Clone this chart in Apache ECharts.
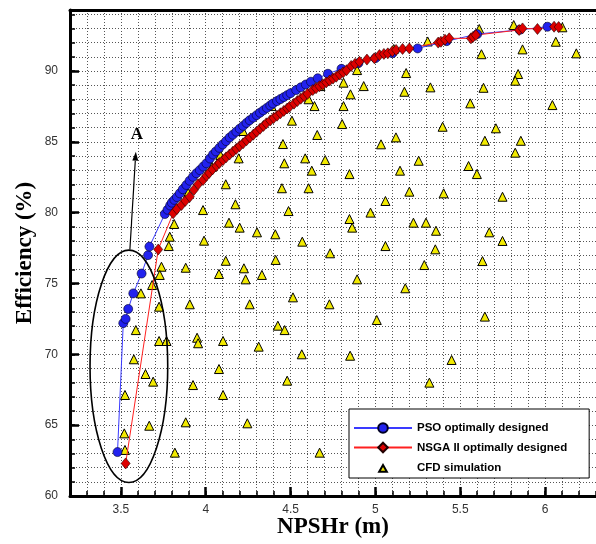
<!DOCTYPE html>
<html>
<head>
<meta charset="utf-8">
<script src="https://cdn.jsdelivr.net/npm/echarts@6/dist/echarts.min.js"></script>
<style>
  html, body { margin: 0; padding: 0; background: #fff; }
  #main { width: 596px; height: 544px; }
</style>
</head>
<body>
<div id="main"></div>
<script>
// NPSHr (m) / efficiency (%) pairs
const psoPoints = [
    [3.48, 63.1], [3.514, 72.2], [3.528, 72.5], [3.543, 73.2], [3.573, 74.3], [3.622, 75.7],
    [3.66, 77.0], [3.668, 77.6], [3.759, 79.9], [3.775, 80.2], [3.79, 80.5], [3.80, 80.7],
    [3.815, 80.9], [3.83, 81.1], [3.847, 81.36], [3.865, 81.65], [3.886, 81.95], [3.905, 82.25],
    [3.925, 82.53], [3.945, 82.78], [3.965, 83.0], [3.985, 83.25], [4.004, 83.48], [4.025, 83.82],
    [4.043, 84.1], [4.06, 84.32], [4.08, 84.57], [4.10, 84.81], [4.12, 85.05], [4.141, 85.3],
    [4.16, 85.5], [4.18, 85.71], [4.20, 85.92], [4.22, 86.12], [4.24, 86.33], [4.259, 86.52],
    [4.28, 86.7], [4.30, 86.88], [4.32, 87.05], [4.34, 87.22], [4.36, 87.39], [4.38, 87.56],
    [4.396, 87.7], [4.42, 87.87], [4.44, 88.01], [4.46, 88.15], [4.48, 88.29], [4.50, 88.43],
    [4.533, 88.65], [4.56, 88.84], [4.59, 89.04], [4.62, 89.24], [4.66, 89.48], [4.72, 89.8],
    [4.80, 90.15], [4.90, 90.55], [5.0, 90.9], [5.10, 91.25], [5.249, 91.59], [5.42, 92.1],
    [5.60, 92.6], [5.85, 92.9], [6.014, 93.12]
];

const nsgaPoints = [
    [3.528, 62.3], [3.72, 77.4], [3.808, 79.95], [3.83, 80.25], [3.857, 80.54], [3.88, 80.83],
    [3.906, 81.12], [3.93, 81.6], [3.955, 82.0], [3.984, 82.3], [4.004, 82.6], [4.02, 82.8],
    [4.04, 83.05], [4.063, 83.3], [4.08, 83.5], [4.102, 83.71], [4.12, 83.9], [4.14, 84.1],
    [4.16, 84.3], [4.18, 84.5], [4.20, 84.7], [4.22, 84.89], [4.24, 85.1], [4.26, 85.3],
    [4.28, 85.5], [4.30, 85.71], [4.32, 85.92], [4.34, 86.12], [4.357, 86.3], [4.38, 86.5],
    [4.40, 86.67], [4.42, 86.84], [4.44, 87.01], [4.46, 87.18], [4.48, 87.35], [4.494, 87.47],
    [4.52, 87.69], [4.54, 87.87], [4.56, 88.04], [4.58, 88.21], [4.60, 88.38], [4.631, 88.65],
    [4.65, 88.78], [4.67, 88.92], [4.69, 89.05], [4.71, 89.19], [4.73, 89.32], [4.75, 89.46],
    [4.769, 89.59], [4.79, 89.75], [4.81, 89.9], [4.83, 90.05], [4.857, 90.35], [4.88, 90.5],
    [4.906, 90.65], [4.95, 90.8], [4.994, 90.89], [5.024, 91.12], [5.05, 91.2], [5.073, 91.24],
    [5.10, 91.38], [5.122, 91.48], [5.16, 91.55], [5.2, 91.59], [5.37, 92.0], [5.386, 92.06],
    [5.41, 92.2], [5.435, 92.3], [5.563, 92.3], [5.575, 92.4], [5.592, 92.53], [5.847, 92.89],
    [5.867, 93.0], [5.955, 92.96], [6.053, 93.12], [6.08, 93.1]
];

const cfdPoints = [
    [4.892, 90.06], [4.676, 88.93], [4.812, 89.17], [4.853, 88.35], [4.606, 88.0], [4.641, 87.52],
    [4.812, 87.52], [4.508, 86.49], [4.804, 86.25], [4.388, 87.52], [4.657, 85.48], [4.455, 84.84],
    [4.194, 83.83], [4.086, 84.07], [4.037, 83.24], [4.463, 83.48], [4.586, 83.83], [4.704, 83.71],
    [4.625, 82.96], [4.847, 82.72], [4.118, 82.0], [4.449, 81.72], [4.606, 81.72], [3.984, 80.18],
    [4.175, 80.59], [4.488, 80.11], [4.847, 79.55], [4.863, 78.94], [3.814, 79.2], [4.137, 79.29],
    [4.2, 78.94], [4.302, 78.61], [4.41, 78.47], [3.788, 78.3], [3.782, 77.64], [3.99, 78.02],
    [4.569, 77.95], [4.733, 77.13], [3.896, 81.4], [4.118, 76.6], [4.412, 76.66], [3.739, 76.18],
    [3.882, 76.11], [4.225, 76.07], [4.22, 85.76], [5.612, 92.96], [5.815, 93.24], [6.102, 93.08],
    [5.308, 92.08], [5.108, 91.55], [6.063, 92.06], [5.867, 91.52], [5.625, 91.18], [6.184, 91.24],
    [5.181, 89.85], [5.841, 89.78], [5.824, 89.31], [4.931, 88.93], [5.171, 88.53], [5.324, 88.84],
    [5.637, 88.81], [5.559, 87.71], [6.043, 87.59], [5.396, 86.06], [5.71, 85.95], [5.121, 85.31],
    [5.033, 84.82], [5.645, 85.07], [5.857, 85.07], [5.824, 84.23], [5.255, 83.66], [5.549, 83.29],
    [5.598, 82.72], [5.145, 82.96], [5.2, 81.48], [5.402, 81.36], [5.749, 81.12], [5.059, 80.82],
    [4.971, 80.0], [5.224, 79.29], [5.298, 79.29], [5.357, 78.72], [5.671, 78.61], [5.059, 77.64],
    [5.353, 77.41], [5.749, 78.0], [5.288, 76.3], [5.631, 76.58], [3.729, 75.6], [4.078, 75.67],
    [4.235, 75.29], [4.331, 75.6], [4.892, 75.29], [3.684, 74.89], [3.618, 74.3], [3.906, 73.53],
    [4.259, 73.53], [4.514, 74.02], [4.729, 73.53], [3.725, 73.36], [3.588, 71.71], [4.425, 72.02],
    [4.465, 71.71], [3.949, 71.17], [3.955, 70.78], [3.725, 70.94], [3.769, 70.94], [4.102, 70.94],
    [4.312, 70.54], [4.566, 70.0], [4.851, 69.9], [3.576, 69.65], [4.078, 68.96], [3.645, 68.61],
    [3.69, 68.07], [3.925, 67.83], [4.48, 68.14], [3.524, 67.13], [4.102, 67.13], [3.667, 64.96],
    [3.882, 65.2], [4.245, 65.13], [3.52, 64.42], [3.524, 63.25], [3.818, 63.06], [4.671, 63.06],
    [5.176, 74.66], [5.008, 72.42], [5.645, 72.66], [5.449, 69.6], [5.318, 68.0]
];

const seriesNames = ['PSO optimally designed', 'NSGA II optimally designed', 'CFD simulation'];
const xTickLabels = [3.5, 4, 4.5, 5, 5.5, 6];
const yTickLabels = [60, 65, 70, 75, 80, 85, 90];

// annotation: ellipse round region "A" and the arrow pointing to it
const ellipseCenter = [3.547, 69.15];
const ellipseRadius = [0.229, 8.2];
const arrowFrom = [3.553, 77.4];
const arrowTo = [3.588, 84.3];
const labelA = [3.594, 85.5];

const X_MIN = 3.2, X_MAX = 6.3, Y_MIN = 60, Y_MAX = 94.3;

const chart = echarts.init(document.getElementById('main'));

const gridDots = { color: '#555', width: 1, type: [1, 2] };
const tickFont = { color: '#333', fontSize: 12, fontFamily: 'Liberation Sans, Arial, sans-serif' };
const titleFont = { fontFamily: 'Liberation Serif, Times New Roman, serif', fontWeight: 'bold', fontSize: 23, color: '#000' };
// small triangle for the legend, padded with empty moves so it stays small
const legendTriangle = 'path://M0,0M12,14M6,3.5L10.5,11.5L1.5,11.5Z';

function renderNote(params, api) {
    const c = api.coord(ellipseCenter);
    const r = api.size(ellipseRadius, ellipseCenter);
    const p0 = api.coord(arrowFrom);
    const p1 = api.coord(arrowTo);
    const dx = p1[0] - p0[0], dy = p1[1] - p0[1];
    const len = Math.hypot(dx, dy);
    const ux = dx / len, uy = dy / len;
    const head = 9, half = 3;
    const bx = p1[0] - ux * head, by = p1[1] - uy * head;
    const t = api.coord(labelA);
    return {
        type: 'group',
        children: [
            { type: 'ellipse', shape: { cx: c[0], cy: c[1], rx: r[0], ry: r[1] },
              style: { fill: null, stroke: '#000', lineWidth: 1.6 } },
            { type: 'line', shape: { x1: p0[0], y1: p0[1], x2: bx, y2: by },
              style: { stroke: '#000', lineWidth: 1.2 } },
            { type: 'polygon', shape: { points: [p1, [bx - uy * half, by + ux * half], [bx + uy * half, by - ux * half]] },
              style: { fill: '#000' } },
            { type: 'text', style: { text: 'A', x: t[0], y: t[1], align: 'center', verticalAlign: 'middle',
              font: 'bold 17px "Liberation Serif", serif', fill: '#000' } }
        ]
    };
}

const option = {
    animation: false,
    backgroundColor: '#fff',
    grid: { left: 70, top: 10, right: 0, bottom: 48 },
    legend: {
        data: [
            { name: seriesNames[0] },
            { name: seriesNames[1] },
            { name: seriesNames[2], icon: legendTriangle }
        ],
        orient: 'vertical',
        left: 349,
        top: 409,
        padding: [13, 22, 3, 4],
        itemGap: 7.5,
        itemWidth: 58,
        itemHeight: 12,
        backgroundColor: '#fff',
        borderColor: '#000',
        borderWidth: 1,
        borderRadius: 0,
        textStyle: { fontFamily: 'Liberation Sans, Arial, sans-serif', fontWeight: 'bold', fontSize: 11.5, color: '#000' }
    },
    xAxis: [
        {
            type: 'value', min: X_MIN, max: X_MAX, interval: 0.1, position: 'bottom',
            name: 'NPSHr (m)', nameLocation: 'middle', nameGap: 20, nameTextStyle: titleFont,
            axisLine: { lineStyle: { color: '#000', width: 3 } },
            axisTick: { inside: true, length: 5, lineStyle: { color: '#000', width: 1.5 } },
            axisLabel: { show: false },
            splitLine: { show: true, lineStyle: gridDots }
        },
        {
            type: 'value', min: X_MIN, max: X_MAX, position: 'bottom',
            axisLine: { show: false },
            axisTick: { inside: true, length: 9, customValues: xTickLabels, lineStyle: { color: '#000', width: 2.5 } },
            axisLabel: Object.assign({ margin: 8, customValues: xTickLabels }, tickFont),
            splitLine: { show: false }
        },
        {
            type: 'value', min: X_MIN, max: X_MAX, position: 'top',
            axisLine: { lineStyle: { color: '#000', width: 3 } },
            axisTick: { show: false }, axisLabel: { show: false }, splitLine: { show: false }
        }
    ],
    yAxis: [
        {
            type: 'value', min: Y_MIN, max: Y_MAX, interval: 1, position: 'left',
            name: 'Efficiency (%)', nameLocation: 'middle', nameGap: 33, nameTextStyle: titleFont,
            axisLine: { lineStyle: { color: '#000', width: 3 } },
            axisTick: { inside: true, length: 5, lineStyle: { color: '#000', width: 1.5 } },
            axisLabel: { show: false },
            splitLine: { show: true, lineStyle: gridDots }
        },
        {
            type: 'value', min: Y_MIN, max: Y_MAX, position: 'left',
            axisLine: { show: false },
            axisTick: { inside: true, length: 9, customValues: yTickLabels, lineStyle: { color: '#000', width: 2.5 } },
            axisLabel: Object.assign({ margin: 12, customValues: yTickLabels }, tickFont),
            splitLine: { show: false }
        }
    ],
    series: [
        {
            name: seriesNames[0], type: 'line', data: psoPoints, showAllSymbol: true,
            symbol: 'circle', symbolSize: 9,
            lineStyle: { color: '#3a3aff', width: 1 },
            itemStyle: { color: '#2222ee', borderColor: '#000022', borderWidth: 0.6 }
        },
        {
            name: seriesNames[1], type: 'line', data: nsgaPoints, showAllSymbol: true,
            symbol: 'diamond', symbolSize: [9, 11],
            lineStyle: { color: '#ff2020', width: 1 },
            itemStyle: { color: '#dd0000', borderColor: '#220000', borderWidth: 0.6 }
        },
        {
            name: seriesNames[2], type: 'scatter', data: cfdPoints,
            symbol: 'triangle', symbolSize: 9,
            itemStyle: { color: '#f2ea00', borderColor: '#000', borderWidth: 1, opacity: 1 }
        },
        {
            type: 'custom', data: [ellipseCenter], renderItem: renderNote, silent: true, z: 5
        }
    ]
};

chart.setOption(option);
</script>
</body>
</html>
